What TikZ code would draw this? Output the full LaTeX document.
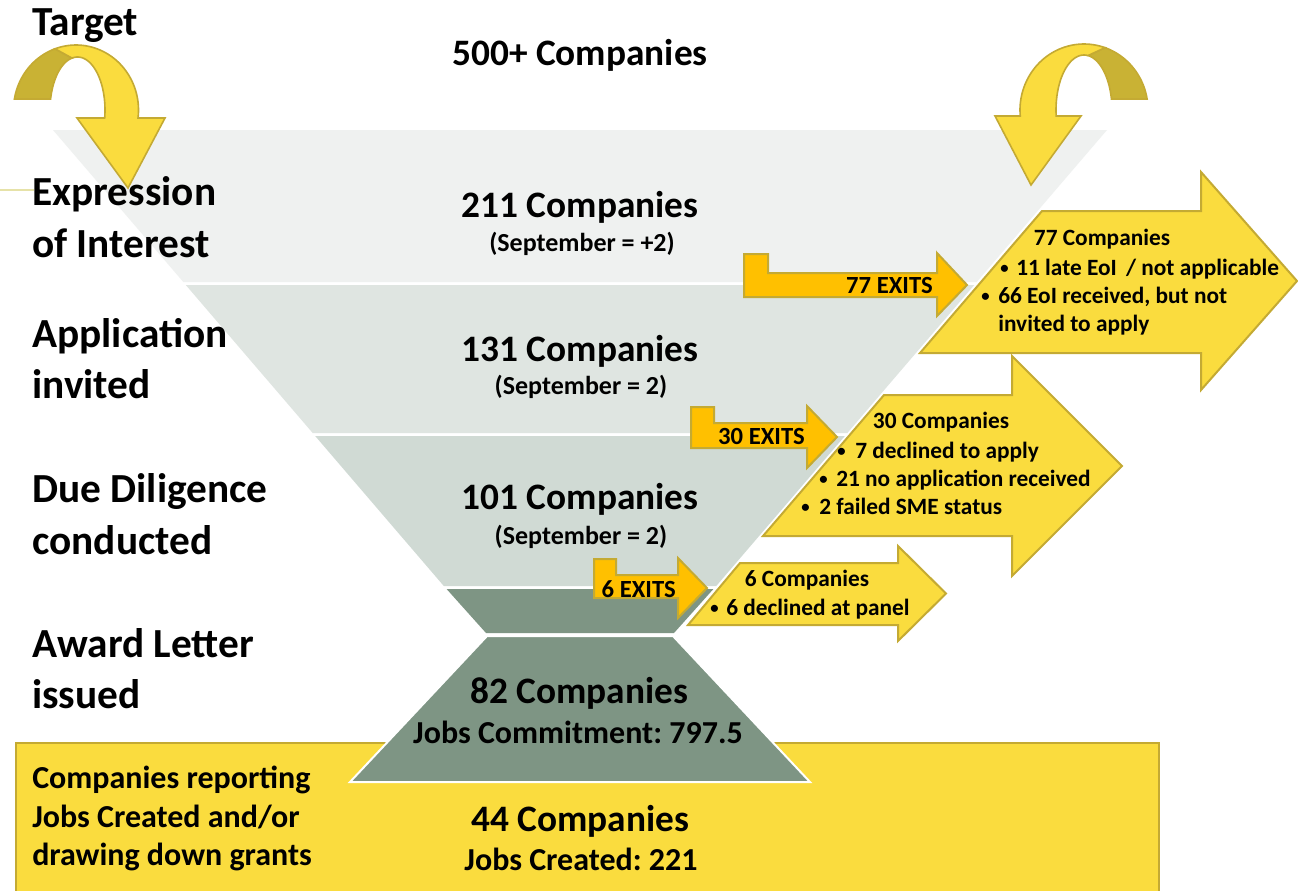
\documentclass[tikz,border=0pt]{standalone}
\usepackage{fontspec}
\setmainfont{Carlito}
\frenchspacing
\definecolor{bandA}{HTML}{EFF1F0}
\definecolor{bandB}{HTML}{DFE5E1}
\definecolor{bandC}{HTML}{D0DAD4}
\definecolor{darkband}{HTML}{7E9584}
\definecolor{yel}{HTML}{FADC3E}
\definecolor{gold}{HTML}{C4AA33}
\definecolor{curlback}{HTML}{C9B234}
\definecolor{exitfill}{HTML}{FFC000}
\definecolor{thinline}{HTML}{E6E2A8}
\newcommand{\smallbul}{\raisebox{0.08em}{\fontsize{12.5pt}{12.5pt}\selectfont •}}
\tikzset{
  yarrow/.style={fill=yel, draw=gold, line width=1.5pt, line join=miter},
  exitarrow/.style={fill=exitfill, draw=gold, line width=1.5pt, line join=miter},
  curlfront/.style={fill=yel, draw=gold, line width=1.2pt, line join=miter},
  curlrear/.style={fill=curlback, draw=gold, line width=1.2pt, line join=miter},
  lbl/.style={inner sep=0pt, anchor=base west, font=\fontsize{31pt}{36pt}\selectfont\bfseries},
  big/.style={inner sep=0pt, anchor=base, font=\fontsize{28pt}{34pt}\selectfont\bfseries},
  sub/.style={inner sep=0pt, anchor=base, font=\fontsize{19.5pt}{23pt}\selectfont\bfseries},
  mid/.style={inner sep=0pt, anchor=base, font=\fontsize{24pt}{29pt}\selectfont\bfseries},
  midl/.style={inner sep=0pt, anchor=base west, font=\fontsize{24pt}{29pt}\selectfont\bfseries},
  atxt/.style={inner sep=0pt, anchor=base west, font=\fontsize{17.5pt}{21pt}\selectfont\bfseries},
  atxtc/.style={inner sep=0pt, anchor=base, font=\fontsize{17.5pt}{21pt}\selectfont\bfseries},
  bul/.style={inner sep=0pt, anchor=base west, font=\fontsize{17.5pt}{21pt}\selectfont\bfseries},
  extxt/.style={inner sep=0pt, anchor=base east, font=\fontsize{18.5pt}{22pt}\selectfont\bfseries},
}
\begin{document}
\begin{tikzpicture}[x=0.75pt, y=-0.75pt]
\useasboundingbox (0,0) rectangle (1298,890);
\fill[white] (0,0) rectangle (1298,890);

% thin line at left
\draw[thinline, line width=0.8pt] (0,190) -- (34,190);

% funnel bands
\fill[bandA] (53,130) -- (1107,130) -- (976.7,282) -- (183.3,282) -- cycle;
\fill[bandB] (185.8,285) -- (974.2,285) -- (847.3,433) -- (312.7,433) -- cycle;
\fill[bandC] (315.2,436) -- (844.8,436) -- (716.2,586) -- (443.8,586) -- cycle;
\fill[darkband] (446.6,589) -- (713.4,589) -- (674,633) -- (486,633) -- cycle;

% bottom yellow box
\draw[fill=yel, draw=gold, line width=1.5pt] (16,743) rectangle (1159,900);
% award trapezoid
\draw[fill=darkband, draw=white, line width=1.5pt] (487,636) -- (673,636) -- (810,782) -- (350,782) -- cycle;

% big yellow arrows
\draw[yarrow] (1042,211) -- (1201,211) -- (1201,172) -- (1297,281) -- (1201,390) -- (1201,353) -- (920,353) -- cycle;
\draw[yarrow] (884,395) -- (1012,395) -- (1012,356) -- (1122,466) -- (1012,576) -- (1012,536) -- (763,536) -- cycle;
\draw[yarrow] (740,563) -- (898,563) -- (898,546) -- (946,593.5) -- (898,641) -- (898,625) -- (688,625) -- cycle;

% exit arrows
\draw[exitarrow] (744,254) -- (768,254) -- (768,273) -- (937,273) -- (937,253) -- (967,285) -- (937,316) -- (937,297) -- (744,297) -- cycle;
\draw[exitarrow] (691,407) -- (714,407) -- (714,423) -- (807,423) -- (807,406) -- (837,437) -- (807,468) -- (807,448) -- (691,448) -- cycle;
\draw[exitarrow] (594,559) -- (616,559) -- (616,575) -- (678,575) -- (678,558) -- (707,588) -- (678,618) -- (678,598) -- (594,598) -- cycle;

% left curl arrow
\draw[curlrear] plot[domain=189.7:250.4, samples=30] ({76+62.5*cos(\x)}, {110+65*sin(\x)})
  -- plot[domain=258.5:192, samples=30] ({77.5+27.5*cos(\x)}, {110+53*sin(\x)}) -- cycle;
\draw[curlfront] plot[domain=250.4:367.07, samples=50] ({76+62.5*cos(\x)}, {110+65*sin(\x)})
  -- (165,118) -- (128,188) -- (77,118)
  -- plot[domain=368.7:258.5, samples=50] ({77.5+27.5*cos(\x)}, {110+53*sin(\x)}) -- cycle;

% right curl arrow
\draw[curlrear] plot[domain=289.2:350.4, samples=30] ({1084+64*cos(\x)}, {110+66*sin(\x)})
  -- plot[domain=348.5:278.2, samples=30] ({1084+28*cos(\x)}, {110+55*sin(\x)}) -- cycle;
\draw[curlfront] plot[domain=174.8:289.2, samples=50] ({1084+64*cos(\x)}, {110+66*sin(\x)})
  -- plot[domain=278.2:173.7, samples=50] ({1084+28*cos(\x)}, {110+55*sin(\x)})
  -- (1081,116) -- (1031,185) -- (995,116) -- cycle;

% left labels
\node[lbl] (target) at (32,35) {Target};
\node[lbl] (eoi1) at (32,205) {Expression};
\node[lbl] (eoi2) at (32,257) {of Interest};
\node[lbl] (app1) at (32,347) {Application};
\node[lbl] (app2) at (32,398) {invited};
\node[lbl] (dd1) at (32,502) {Due Diligence};
\node[lbl] (dd2) at (32,554) {conducted};
\node[lbl] (aw1) at (32,657) {Award Letter};
\node[lbl] (aw2) at (32,708) {issued};
\node[midl] (rep1) at (32,788) {Companies reporting};
\node[midl] (rep2) at (32,827) {Jobs Created and/or};
\node[midl] (rep3) at (32,865) {drawing down grants};

% centre texts
\node[big] (c500) at (580,65) {500+ Companies};
\node[big] (c211) at (580,217) {211 Companies};
\node[sub] (s211) at (582,251) {(September = +2)};
\node[big] (c131) at (580,361) {131 Companies};
\node[sub] (s131) at (581,394) {(September = 2)};
\node[big] (c101) at (580,509) {101 Companies};
\node[sub] (s101) at (581,544) {(September = 2)};
\node[big] (c82) at (579,703) {82 Companies};
\node[mid] (j82) at (578,743) {Jobs Commitment: 797.5};
\node[big] (c44) at (580,831) {44 Companies};
\node[mid] (j44) at (581,870) {Jobs Created: 221};

% exit labels
\node[extxt] (e77) at (933,293) {77 EXITS};
\node[extxt] (e30) at (805,444) {30 EXITS};
\node[extxt] (e6) at (676,597) {6 EXITS};

% arrow texts 77
\node[atxtc] (a77) at (1102,245) {77 Companies};
\node[bul] (b77a) at (1000,275) {\smallbul};
\node[atxt] (t77a) at (1016,275) {11 late EoI\, / not applicable};
\node[bul] (b77b) at (981,303) {\smallbul};
\node[atxt] (t77b) at (998,303) {66 EoI received, but not};
\node[atxt] (t77c) at (998,331) {invited to apply};
% arrow texts 30
\node[atxtc] (a30) at (941,428) {30 Companies};
\node[bul] (b30a) at (837,458) {\smallbul};
\node[atxt] (t30a) at (855,458) {7 declined to apply};
\node[bul] (b30b) at (819,486) {\smallbul};
\node[atxt] (t30b) at (836,486) {21 no application received};
\node[bul] (b30c) at (801,514) {\smallbul};
\node[atxt] (t30c) at (819,514) {2 failed SME status};
% arrow texts 6
\node[atxtc] (a6) at (807,586) {6 Companies};
\node[bul] (b6a) at (710,615) {\smallbul};
\node[atxt] (t6a) at (726,615) {6 declined at panel};
\end{tikzpicture}
\end{document}
